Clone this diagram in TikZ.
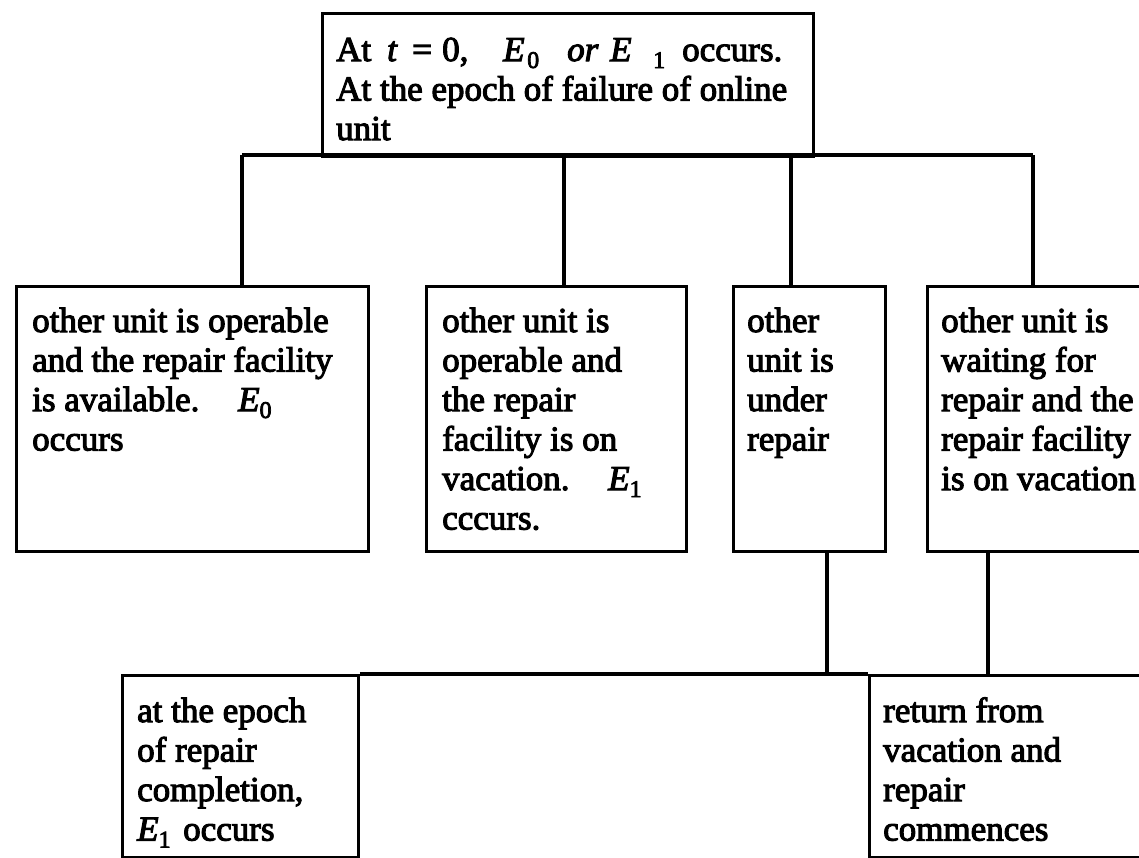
\documentclass[tikz,border=0pt]{standalone}
\usepackage{fontspec}
\setmainfont{Liberation Serif}
\newfontfamily\heavyrm{Liberation Serif}[FakeBold=3]
\newcommand\subx[1]{\raisebox{-7pt}{\fontsize{24}{24}\selectfont #1}}
\newcommand\atx[2]{\makebox[0pt][l]{\hspace{#1}#2}}
\newcommand\lines[1]{\begin{tabular}[t]{@{}l@{}}#1\end{tabular}}
\tikzset{
  box/.style={draw, line width=2.8pt, inner sep=0pt, anchor=north west},
  txt/.style={inner sep=0pt, anchor=base west,
              font=\heavyrm\fontsize{35}{39.5}\selectfont},
  conn/.style={line width=3.4pt}
}
\begin{document}
\begin{tikzpicture}[x=1pt,y=-1pt]
\useasboundingbox (0,0) rectangle (1139,857);
\clip (0,0) rectangle (1139,857);
% boxes
\node[box, minimum width=491pt, minimum height=143pt] (top) at (321,12) {};
\node[box, minimum width=352pt, minimum height=265pt] (b1) at (15,285) {};
\node[box, minimum width=260pt, minimum height=265pt] (b2) at (425,285) {};
\node[box, minimum width=152pt, minimum height=265pt] (b3) at (732,285) {};
\node[box, minimum width=230pt, minimum height=265pt] (b4) at (926,285) {};
\node[box, minimum width=236pt, minimum height=182pt] (b5) at (121,674) {};
\node[box, minimum width=290pt, minimum height=182pt] (b6) at (868,674) {};
% texts
\node[txt] (ttop) at ([shift={(15pt,-49pt)}]top.north west)
  {\lines{\atx{0pt}{At}\atx{51pt}{\textit{t}}\atx{76pt}{=}\atx{106pt}{0,}%
   \atx{167pt}{\textit{E}}\atx{191pt}{\subx{0}}\atx{231pt}{\textit{or}}%
   \atx{274pt}{\textit{E}}\atx{317pt}{\subx{1}}\atx{346pt}{occurs.}\hspace{461pt}\\
   At the epoch of failure of online\\ unit}};
\node[txt] (t1) at ([shift={(17pt,-47pt)}]b1.north west)
  {\lines{other unit is operable\\ and the repair facility\\
   \makebox[206pt][l]{is available.}\textit{E}\subx{0}\\ occurs}};
\node[txt] (t2) at ([shift={(17pt,-47pt)}]b2.north west)
  {\lines{other unit is\\ operable and\\ the repair\\ facility is on\\
   \makebox[166pt][l]{vacation.}\textit{E}\subx{1}\\ cccurs.}};
\node[txt] (t3) at ([shift={(15pt,-47pt)}]b3.north west)
  {\lines{other\\ unit is\\ under\\ repair}};
\node[txt] (t4) at ([shift={(15pt,-47pt)}]b4.north west)
  {\lines{other unit is\\ waiting for\\ repair and the\\ repair facility\\ is on vacation}};
\node[txt] (t5) at ([shift={(16pt,-48pt)}]b5.north west)
  {\lines{at the epoch\\ of repair\\ completion,\\ \makebox[46pt][l]{\textit{E}\subx{1}}occurs}};
\node[txt] (t6) at ([shift={(15pt,-48pt)}]b6.north west)
  {\lines{return from\\ vacation and\\ repair\\ commences}};
% connectors
\coordinate (j1) at (242,155);
\coordinate (j2) at (564,155);
\coordinate (j3) at (791,155);
\coordinate (j4) at (1033,155);
\draw[conn] (j1) -- (j4);
\draw[conn] (j1) -- (j1 |- b1.north);
\draw[conn] (j2) -- (j2 |- b2.north);
\draw[conn] (j3) -- (j3 |- b3.north);
\draw[conn] (j4) -- (j4 |- b4.north);
\coordinate (k3) at (827,674);
\coordinate (k4) at (988,674);
\draw[conn] (k3 |- b3.south) -- (k3);
\draw[conn] (k4 |- b4.south) -- (k4);
\draw[conn] (b5.north east) -- (b6.north west);
\end{tikzpicture}
\end{document}
